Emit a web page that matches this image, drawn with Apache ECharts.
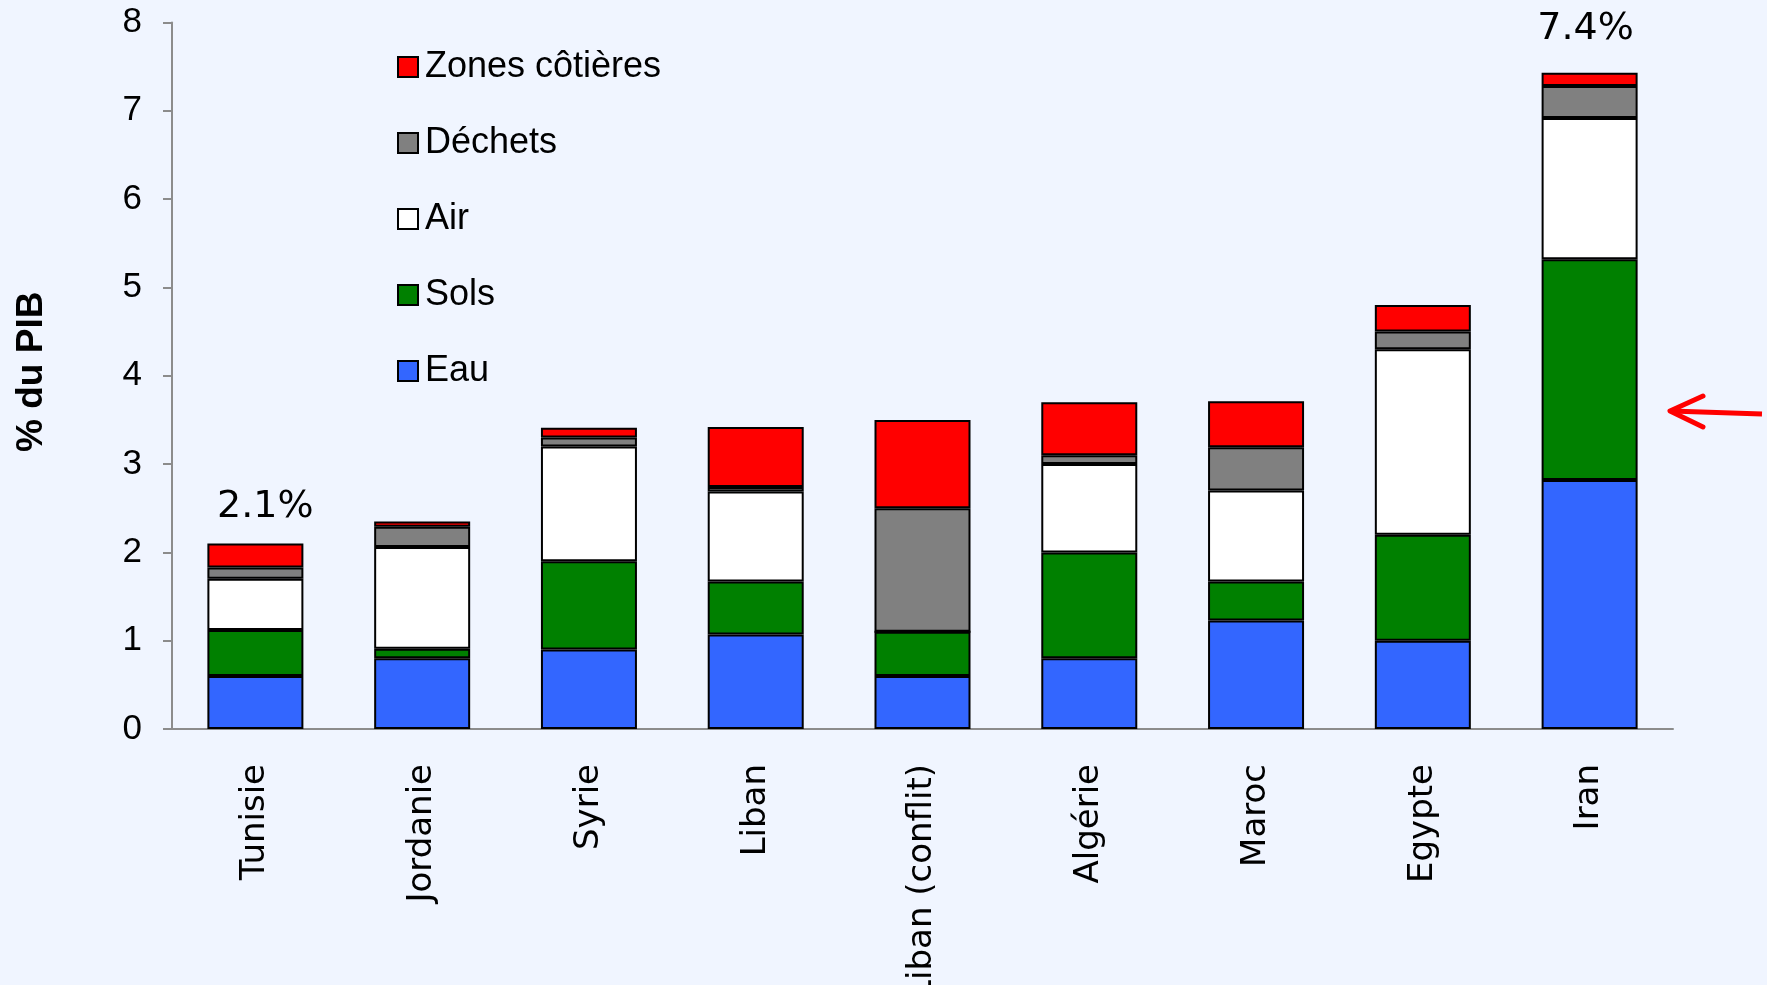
<!DOCTYPE html>
<html>
<head>
<meta charset="utf-8">
<script src="https://cdn.jsdelivr.net/npm/echarts@6/dist/echarts.min.js"></script>
<style>
html,body{margin:0;padding:0;background:#F0F5FF;}
#chart{width:1767px;height:985px;}
</style>
</head>
<body>
<div id="chart"></div>
<script>
const categories = ['Tunisie','Jordanie','Syrie','Liban','Liban (conflit)','Algérie','Maroc','Egypte','Iran'];
const eau     = [0.60, 0.80, 0.90, 1.07, 0.60, 0.80, 1.23, 1.00, 2.82];
const sols    = [0.52, 0.11, 1.00, 0.60, 0.50, 1.20, 0.44, 1.20, 2.50];
const air     = [0.58, 1.15, 1.30, 1.02, 0.00, 1.00, 1.03, 2.10, 1.60];
const dechets = [0.13, 0.23, 0.10, 0.05, 1.40, 0.10, 0.49, 0.20, 0.36];
const zones   = [0.27, 0.06, 0.11, 0.68, 1.00, 0.60, 0.52, 0.30, 0.15];
const labeledCategories = ['Tunisie','Iran'];
const yTicks = [0,1,2,3,4,5,6,7,8];

const seriesDefs = [
  {name:'Eau', data:eau, color:'#3366FF'},
  {name:'Sols', data:sols, color:'#008000'},
  {name:'Air', data:air, color:'#FFFFFF'},
  {name:'Déchets', data:dechets, color:'#808080'},
  {name:'Zones côtières', data:zones, color:'#FF0000'}
];

const totals = categories.map((c,i)=>seriesDefs.reduce((s,d)=>s+d.data[i],0));

const series = seriesDefs.map((d,si)=>{
  const isTop = si === seriesDefs.length-1;
  return {
    name:d.name,
    type:'bar',
    stack:'total',
    barWidth:96,
    itemStyle:{color:d.color, borderColor:'#000', borderWidth:2},
    emphasis:{disabled:true},
    data:d.data.map((v,i)=>{
      const item = {value:v};
      if(isTop && labeledCategories.includes(categories[i])){
        item.label = {
          show:true, position:'top', distance: i===0?17:25,
          offset: i===0?[10,0]:[-4,0],
          fontFamily:'DejaVu Sans', fontSize:38, color:'#000',
          formatter: ()=> totals[i].toFixed(1)+'%'
        };
      }
      return item;
    })
  };
});

const chart = echarts.init(document.getElementById('chart'));
chart.setOption({
  backgroundColor:'#F0F5FF',
  animation:false,
  grid:{left:172, right:94, top:22.5, bottom:256, containLabel:false, outerBoundsMode:'none'},
  legend:{
    data:['Zones côtières','Déchets','Air','Sols','Eau'],
    orient:'vertical',
    left:392, top:42,
    itemWidth:20, itemHeight:20, itemGap:36,
    icon:'rect',
    itemStyle:{borderColor:'#000', borderWidth:2},
    textStyle:{fontFamily:'Liberation Sans', fontSize:36, color:'#000', lineHeight:40, padding:[0,0,0,2]},
    selectedMode:false
  },
  xAxis:{
    type:'category',
    data:categories,
    axisLine:{lineStyle:{color:'#8C8C8C', width:2}},
    axisTick:{show:false},
    axisLabel:{rotate:90, margin:35, fontFamily:'DejaVu Sans', fontSize:34, color:'#000', interval:0}
  },
  yAxis:{
    type:'value',
    min:0, max:8, interval:1,
    name:'% du PIB',
    nameLocation:'middle',
    nameGap:122,
    nameRotate:90,
    nameTextStyle:{fontFamily:'Liberation Sans', fontWeight:'bold', fontSize:37, color:'#000', padding:[0,0,0,8]},
    axisLine:{show:true, lineStyle:{color:'#8C8C8C', width:2}},
    axisTick:{show:true, length:9, lineStyle:{color:'#8C8C8C', width:2}},
    splitLine:{show:false},
    axisLabel:{margin:30, fontFamily:'Liberation Sans', fontSize:35, color:'#000',
      formatter:(v)=> yTicks.includes(v) ? String(v) : ''}
  },
  graphic:[
    {type:'polyline', shape:{points:[[1762,414],[1671,411]]}, style:{stroke:'#FF0000', lineWidth:5, fill:null}},
    {type:'polyline', shape:{points:[[1703,396],[1670,411],[1703,427]]}, style:{stroke:'#FF0000', lineWidth:5, fill:null, lineJoin:'round', lineCap:'round'}}
  ],
  series:series
});
</script>
</body>
</html>
